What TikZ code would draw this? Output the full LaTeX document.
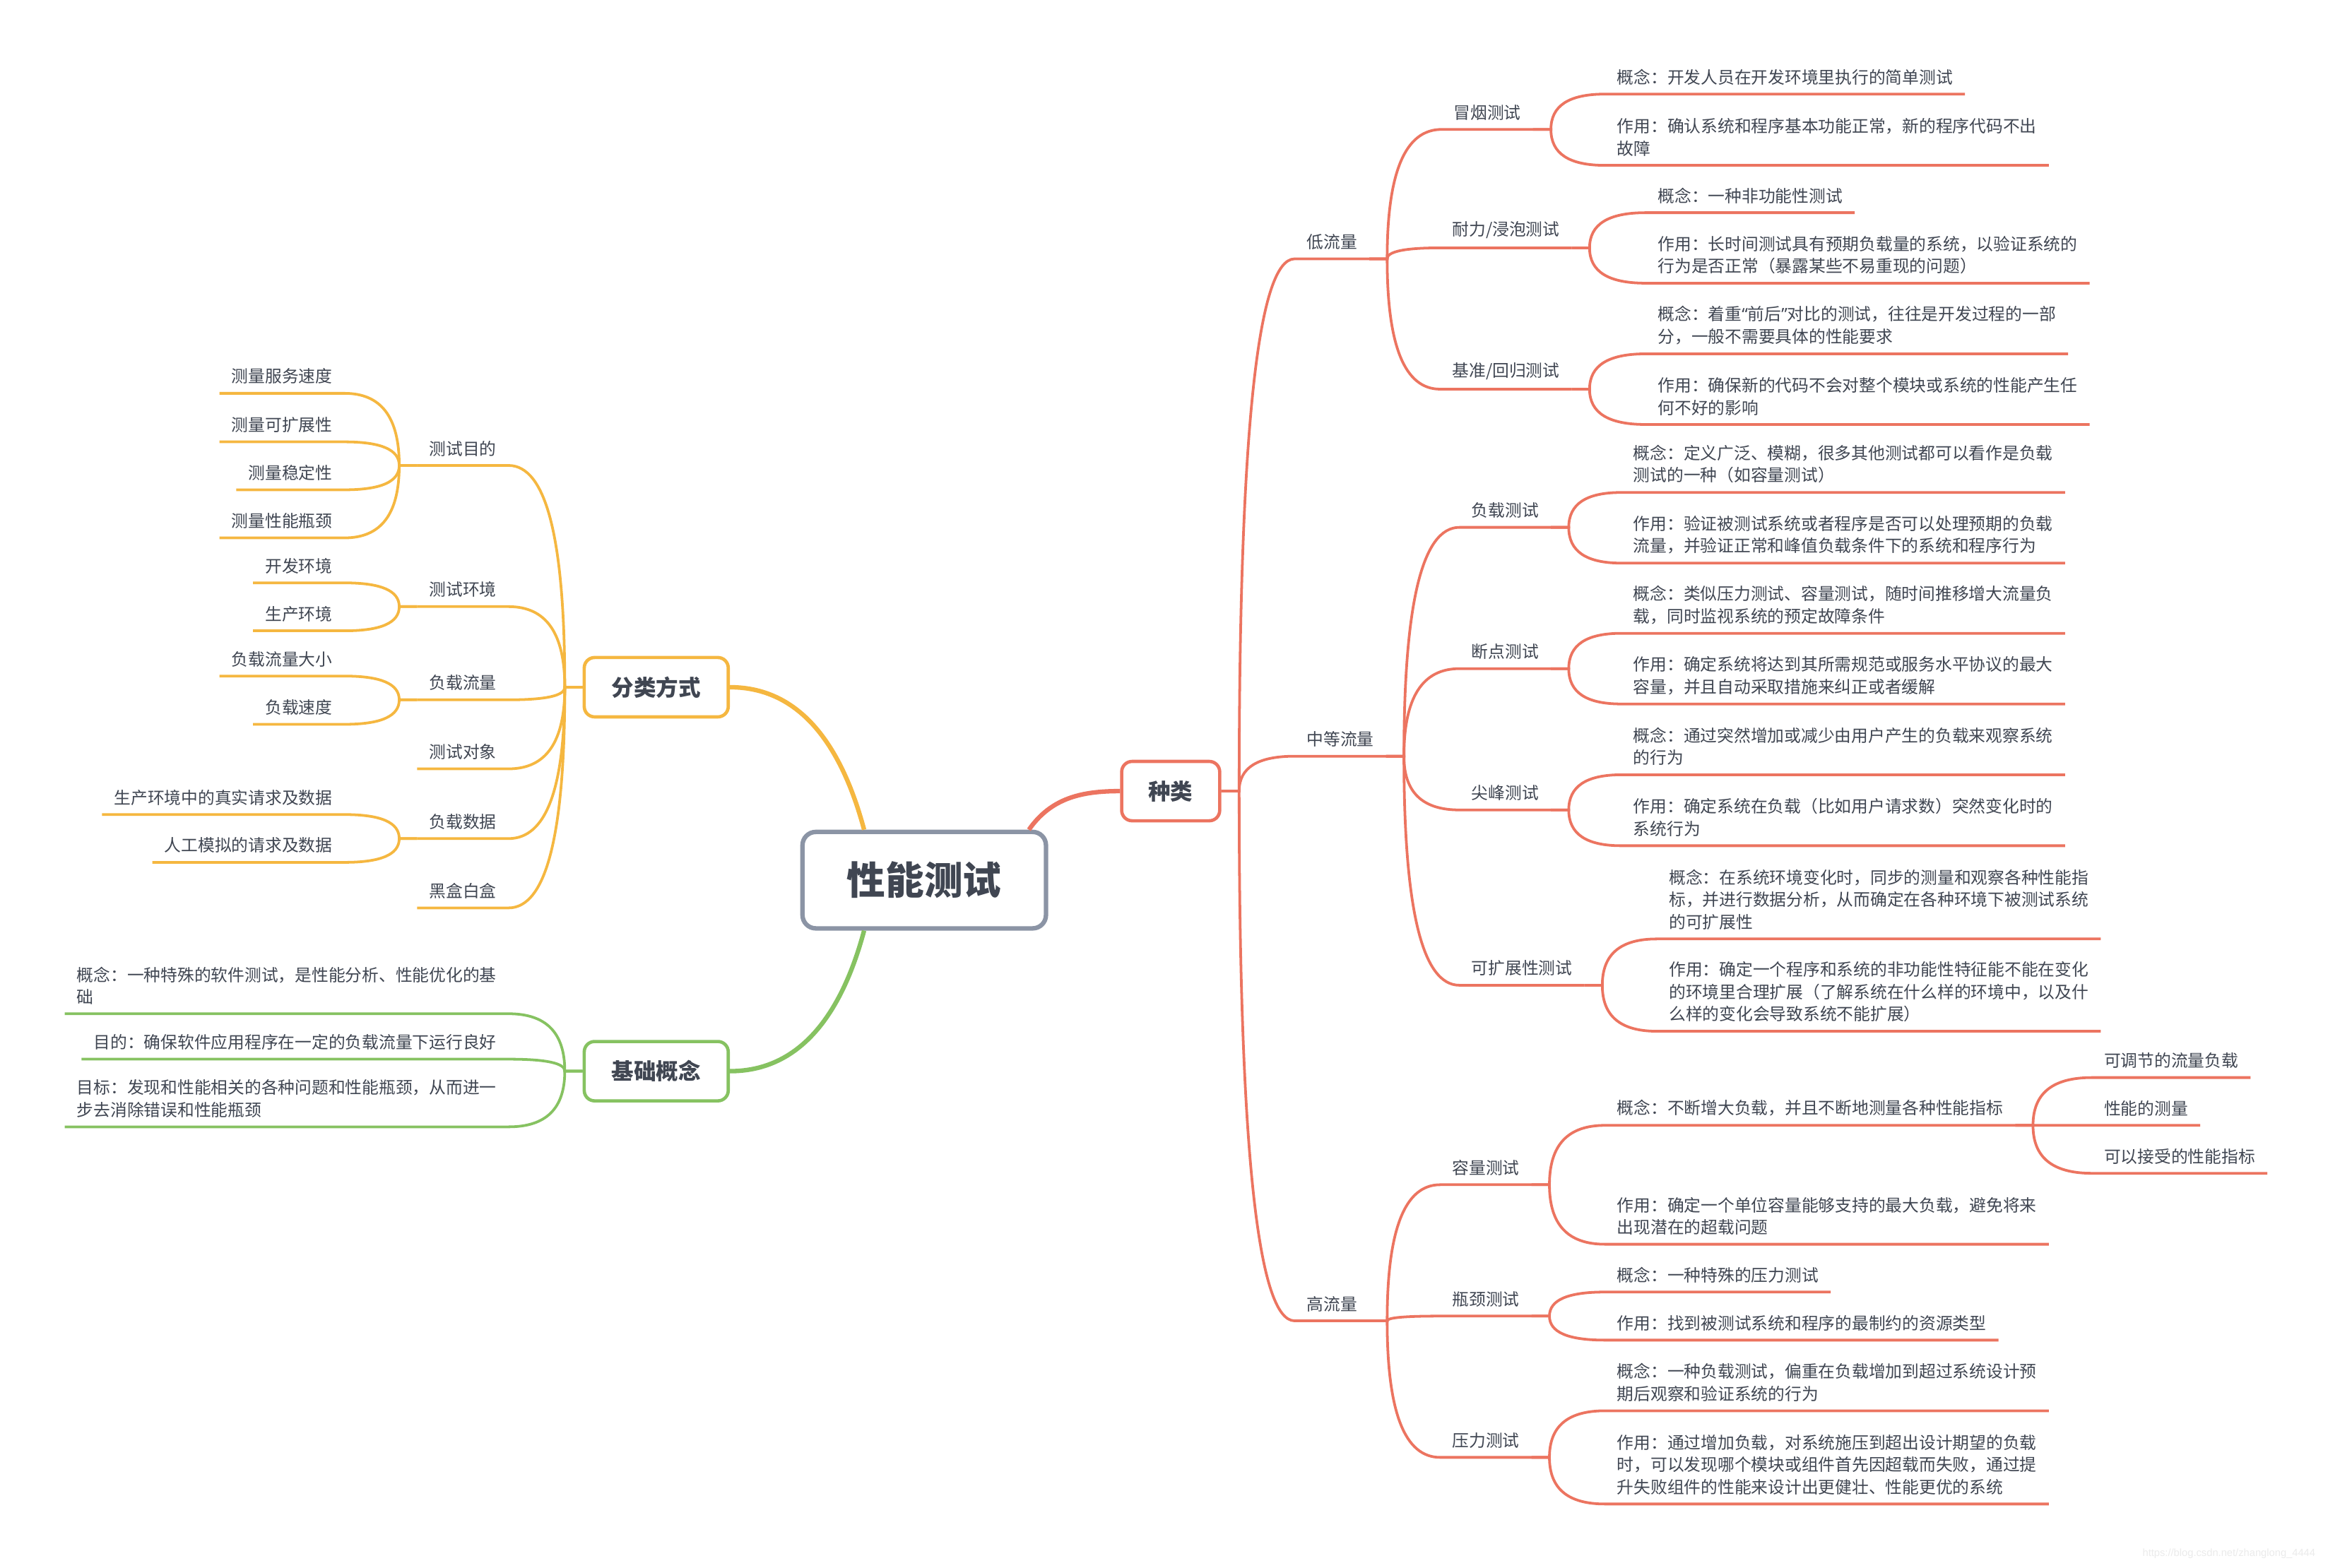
\documentclass[tikz,border=0pt]{standalone}
\usepackage{fontspec}
\setmainfont{Noto Sans CJK SC}
\newfontfamily\wmfont{Liberation Sans}
\newfontfamily\qfont{Noto Sans}
\usetikzlibrary{calc}

\definecolor{txt}{RGB}{64,70,82}
\definecolor{rd}{RGB}{236,116,96}
\definecolor{ylw}{RGB}{245,183,64}
\definecolor{grn}{RGB}{134,194,97}
\definecolor{gry}{RGB}{139,148,165}

% branch to the right: stub, curve, underline
\newcommand\rlink[2]{%
  \path ([xshift=12pt]#1) coordinate (j) (#2.south west) coordinate (k);
  \draw[link] (#1) -- (j) .. controls ($(j)!.67!(j|-k)$) and ($(k)!.67!(j|-k)$) .. (k) -- (#2.south east);}
% branch to the left
\newcommand\llink[2]{%
  \path ([xshift=-12pt]#1) coordinate (j) (#2.south east) coordinate (k);
  \draw[link] (#1) -- (j) .. controls ($(j)!.67!(j|-k)$) and ($(k)!.67!(j|-k)$) .. (k) -- (#2.south west);}

\begin{document}
\begin{tikzpicture}[x=1pt,y=-1pt,
    root/.style={draw=gry,line width=3pt,rounded corners=9pt,fill=white,minimum width=164pt,minimum height=65pt,text=txt,font=\fontsize{26}{30}\selectfont\bfseries},
    topic/.style={line width=2.2pt,rounded corners=7pt,fill=white,minimum height=40pt,text=txt,font=\fontsize{15}{18}\selectfont\bfseries},
    tx/.style={text=txt,font=\fontsize{11.3}{15}\selectfont,inner xsep=8pt,inner ysep=6pt,align=left},
    rt/.style={tx,anchor=south west},
    lt/.style={tx,anchor=south east},
    link/.style={line width=1.8pt},
    trunk/.style={line width=3pt}]
    \useasboundingbox (0,0) rectangle (1568,1056);
    \fill[white] (0,0) rectangle (1568,1056);

    \node[root] (c) at (622.5,593) {性能测试};
    \node[topic,draw=rd,minimum width=66pt] (zl) at (788.5,533) {种类};
    \node[topic,draw=ylw,minimum width=97pt] (fl) at (442,463) {分类方式};
    \node[topic,draw=grn,minimum width=97pt] (jc) at (442,721.7) {基础概念};

    \draw[trunk,rd] ([xshift=-13pt]c.north east) to[out=55,in=180] (zl.west);
    \draw[trunk,ylw] ([xshift=43pt]c.north west) to[out=105,in=0] (fl.east);
    \draw[trunk,grn] ([xshift=43pt]c.south west) to[out=-105,in=0] (jc.east);

    % 种类
    \node[rt] (dl) at (872,174.4) {低流量};
    \node[rt] (zd) at (872,509.5) {中等流量};
    \node[rt] (gl) at (872,889.9) {高流量};

    \node[rt] (mo) at (971,87.2) {冒烟测试};
    \node[rt] (nl) at (970,167) {耐力/浸泡测试};
    \node[rt] (jz) at (970,262.2) {基准/回归测试};
    \node[rt] (mo1) at (1081,63.4) {概念：开发人员在开发环境里执行的简单测试};
    \node[rt] (mo2) at (1081,111.4) {作用：确认系统和程序基本功能正常，新的程序代码不出\\故障};
    \node[rt] (nl1) at (1108.5,143.3) {概念：一种非功能性测试};
    \node[rt] (nl2) at (1108.5,190.8) {作用：长时间测试具有预期负载量的系统，以验证系统的\\行为是否正常（暴露某些不易重现的问题）};
    \node[rt] (jz1) at (1108.5,238.4) {概念：着重{\qfont“}前后{\qfont”}对比的测试，往往是开发过程的一部\\分，一般不需要具体的性能要求};
    \node[rt] (jz2) at (1108.5,286) {作用：确保新的代码不会对整个模块或系统的性能产生任\\何不好的影响};

    \node[rt] (fz) at (983,355.3) {负载测试};
    \node[rt] (dd) at (983,450.5) {断点测试};
    \node[rt] (jf) at (983,545.7) {尖峰测试};
    \node[rt] (kz) at (983,663.8) {可扩展性测试};
    \node[rt] (fz1) at (1092,331.8) {概念：定义广泛、模糊，很多其他测试都可以看作是负载\\测试的一种（如容量测试）};
    \node[rt] (fz2) at (1092,379.4) {作用：验证被测试系统或者程序是否可以处理预期的负载\\流量，并验证正常和峰值负载条件下的系统和程序行为};
    \node[rt] (dd1) at (1092,426.7) {概念：类似压力测试、容量测试，随时间推移增大流量负\\载，同时监视系统的预定故障条件};
    \node[rt] (dd2) at (1092,474.3) {作用：确定系统将达到其所需规范或服务水平协议的最大\\容量，并且自动采取措施来纠正或者缓解};
    \node[rt] (jf1) at (1092,522) {概念：通过突然增加或减少由用户产生的负载来观察系统\\的行为};
    \node[rt] (jf2) at (1092,569.8) {作用：确定系统在负载（比如用户请求数）突然变化时的\\系统行为};
    \node[rt] (kz1) at (1116,632.6) {概念：在系统环境变化时，同步的测量和观察各种性能指\\标，并进行数据分析，从而确定在各种环境下被测试系统\\的可扩展性};
    \node[rt] (kz2) at (1116,694.8) {作用：确定一个程序和系统的非功能性特征能不能在变化\\的环境里合理扩展（了解系统在什么样的环境中，以及什\\么样的变化会导致系统不能扩展）};

    \node[rt] (rl) at (970,798.2) {容量测试};
    \node[rt] (pj) at (970,886.7) {瓶颈测试};
    \node[rt] (yl) at (970,981.9) {压力测试};
    \node[rt] (rl1) at (1081,758.2) {概念：不断增大负载，并且不断地测量各种性能指标};
    \node[rt] (rl11) at (1409,726) {可调节的流量负载};
    \node[rt] (rl12) at (1409,758.2) {性能的测量};
    \node[rt] (rl13) at (1409,790.5) {可以接受的性能指标};
    \node[rt] (rl2) at (1081,838.3) {作用：确定一个单位容量能够支持的最大负载，避免将来\\出现潜在的超载问题};
    \node[rt] (pj1) at (1081,870.5) {概念：一种特殊的压力测试};
    \node[rt] (pj2) at (1081,902.9) {作用：找到被测试系统和程序的最制约的资源类型};
    \node[rt] (yl1) at (1081,950.5) {概念：一种负载测试，偏重在负载增加到超过系统设计预\\期后观察和验证系统的行为};
    \node[rt] (yl2) at (1081,1013.3) {作用：通过增加负载，对系统施压到超出设计期望的负载\\时，可以发现哪个模块或组件首先因超载而失败，通过提\\升失败组件的性能来设计出更健壮、性能更优的系统};

    \begin{scope}[color=rd]
        \foreach \n in {dl,zd,gl} {\rlink{zl.east}{\n}}
        \foreach \n in {mo,nl,jz} {\rlink{dl.south east}{\n}}
        \foreach \n in {fz,dd,jf,kz} {\rlink{zd.south east}{\n}}
        \foreach \n in {rl,pj,yl} {\rlink{gl.south east}{\n}}
        \foreach \p in {mo,nl,jz,fz,dd,jf,kz,rl,pj,yl} {
            \rlink{\p.south east}{\p1}
            \rlink{\p.south east}{\p2}}
        \foreach \n in {rl11,rl12,rl13} {\rlink{rl1.south east}{\n}}
    \end{scope}

    % 分类方式
    \node[lt] (md) at (342.5,313.6) {测试目的};
    \node[lt] (hj) at (342.5,408.7) {测试环境};
    \node[lt] (ll) at (342.5,471.5) {负载流量};
    \node[lt] (dx) at (342.5,518) {测试对象};
    \node[lt] (sj) at (342.5,565) {负载数据};
    \node[lt] (hb) at (342.5,611.7) {黑盒白盒};
    \node[lt] (md1) at (232,265) {测量服务速度};
    \node[lt] (md2) at (232,297.7) {测量可扩展性};
    \node[lt] (md3) at (232,330) {测量稳定性};
    \node[lt] (md4) at (232,362.4) {测量性能瓶颈};
    \node[lt] (hj1) at (232,392.7) {开发环境};
    \node[lt] (hj2) at (232,425) {生产环境};
    \node[lt] (ll1) at (232,455.5) {负载流量大小};
    \node[lt] (ll2) at (232,488) {负载速度};
    \node[lt] (sj1) at (232,548.8) {生产环境中的真实请求及数据};
    \node[lt] (sj2) at (232,581) {人工模拟的请求及数据};

    \begin{scope}[color=ylw]
        \foreach \n in {md,hj,ll,dx,sj,hb} {\llink{fl.west}{\n}}
        \foreach \n in {md1,md2,md3,md4} {\llink{md.south west}{\n}}
        \foreach \n in {hj1,hj2} {\llink{hj.south west}{\n}}
        \foreach \n in {ll1,ll2} {\llink{ll.south west}{\n}}
        \foreach \n in {sj1,sj2} {\llink{sj.south west}{\n}}
    \end{scope}

    % 基础概念
    \node[lt] (gn1) at (342.5,683) {概念：一种特殊的软件测试，是性能分析、性能优化的基\\础};
    \node[lt] (gn2) at (342.5,713.6) {目的：确保软件应用程序在一定的负载流量下运行良好};
    \node[lt] (gn3) at (342.5,759.2) {目标：发现和性能相关的各种问题和性能瓶颈，从而进一\\步去消除错误和性能瓶颈};

    \begin{scope}[color=grn]
        \foreach \n in {gn1,gn2,gn3} {\llink{jc.west}{\n}}
    \end{scope}

    \node[font=\wmfont\fontsize{7}{8}\selectfont,text=black!8,anchor=east] (wm) at (1563,1047) {https://blog.csdn.net/zhanglong\_4444};
\end{tikzpicture}
\end{document}
